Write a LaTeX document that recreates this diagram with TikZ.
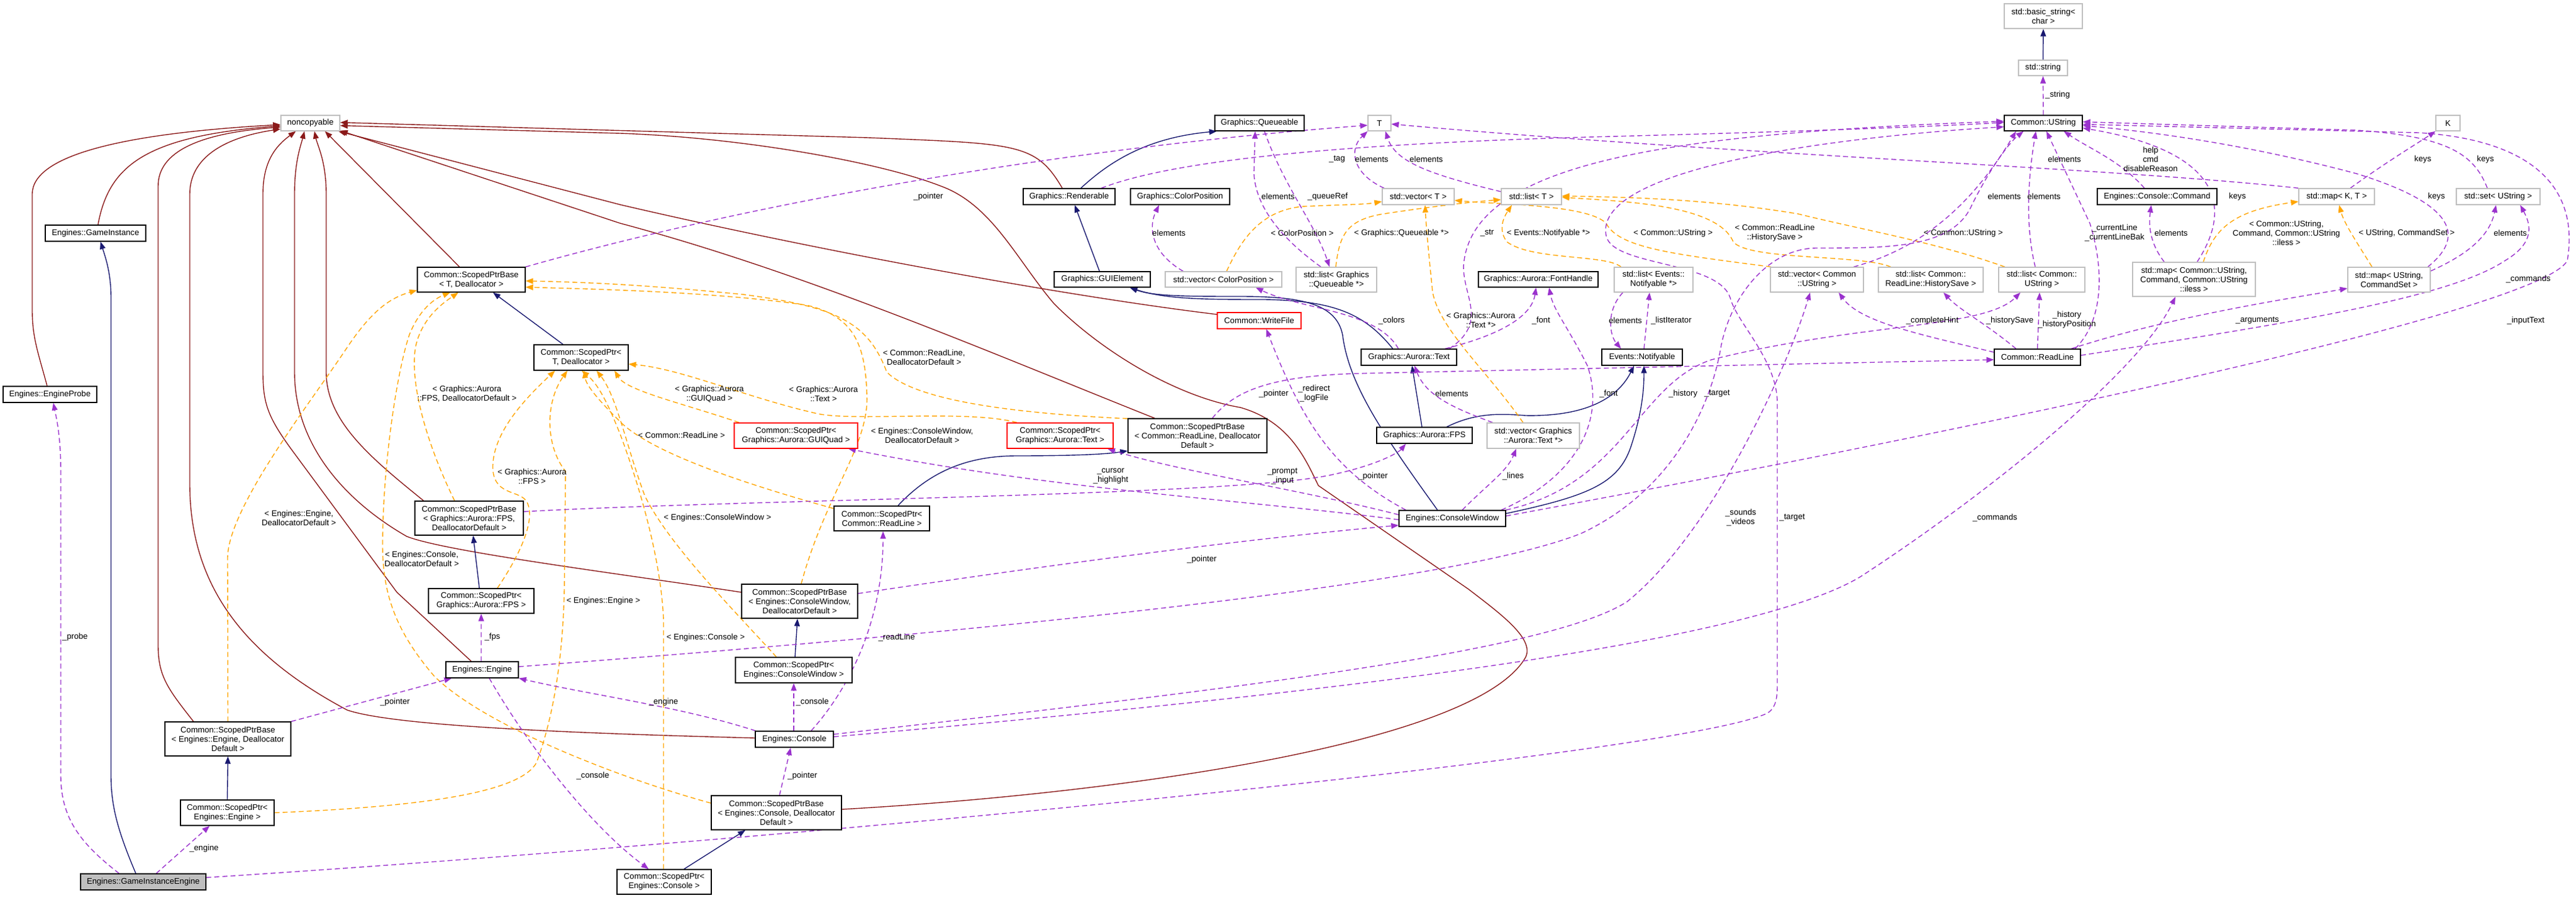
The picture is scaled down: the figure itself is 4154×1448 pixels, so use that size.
\documentclass[tikz,border=0pt]{standalone}
\usepackage{fontspec}
\setmainfont{Liberation Sans}
\usetikzlibrary{arrows.meta}
\definecolor{mblue}{RGB}{25,25,112}
\definecolor{fbrick}{RGB}{139,26,26}
\definecolor{dorchid}{RGB}{154,50,205}
\definecolor{orng}{RGB}{255,165,0}
\definecolor{grey75}{RGB}{191,191,191}
\pgfdeclarelayer{bg}
\pgfsetlayers{bg,main}
\tikzset{
  every node/.style={font=\fontsize{13.2bp}{15bp}\selectfont, inner sep=0pt, align=center},
  cls/.style={draw=black, line width=1.3bp, fill=white},
  ext/.style={draw=grey75, line width=1.3bp, fill=white},
  trunc/.style={draw=red, line width=1.3bp, fill=white},
  sel/.style={draw=black, line width=1.3bp, fill=grey75},
  sz/.style 2 args={minimum width=#1bp, minimum height=#2bp},
  edgebase/.style={line width=1.4bp, -{Triangle[length=12bp,width=9bp]}},
  pub/.style={edgebase, draw=mblue},
  priv/.style={edgebase, draw=fbrick},
  usage/.style={edgebase, draw=dorchid, dash pattern=on 8bp off 5bp},
  tmpl/.style={edgebase, draw=orng, dash pattern=on 8bp off 5bp},
}
\begin{document}
\begin{tikzpicture}[x=1bp,y=-1bp]
\useasboundingbox (0,0) rectangle (4154,1448);
% ---------------- nodes ----------------
\node[ext,sz={95}{25}] (noncopyable) at (500.5,198.5) {noncopyable};
\node[cls,sz={162}{26}] (gameinst) at (154,376) {Engines::GameInstance};
\node[cls,sz={174}{40}] (spbT) at (760,451) {Common::ScopedPtrBase\\< T, Deallocator >};
\node[cls,sz={151}{26}] (probe) at (80.5,636) {Engines::EngineProbe};
\node[cls,sz={152}{41}] (spT) at (937,576.5) {Common::ScopedPtr<\\T, Deallocator >};
\node[cls,sz={175}{55}] (spbFPS) at (756.5,835.5) {Common::ScopedPtrBase\\< Graphics::Aurora::FPS,\\DeallocatorDefault >};
\node[cls,sz={170}{40}] (spFPS) at (776,969) {Common::ScopedPtr<\\Graphics::Aurora::FPS >};
\node[cls,sz={117}{26}] (engine) at (777.5,1080) {Engines::Engine};
\node[cls,sz={203}{55}] (spbEngine) at (367.5,1191.5) {Common::ScopedPtrBase\\< Engines::Engine, Deallocator\\Default >};
\node[cls,sz={151}{41}] (spEngine) at (366.5,1310.5) {Common::ScopedPtr<\\Engines::Engine >};
\node[sel,sz={202}{26}] (gie) at (231,1422) {Engines::GameInstanceEngine};
\node[cls,sz={152}{40}] (spConsole) at (1071,1422) {Common::ScopedPtr<\\Engines::Console >};
\node[cls,sz={210}{55}] (spbConsole) at (1252,1310.5) {Common::ScopedPtrBase\\< Engines::Console, Deallocator\\Default >};
\node[cls,sz={126}{26}] (console) at (1281,1192) {Engines::Console};
\node[cls,sz={188}{41}] (spCW) at (1280,1080.5) {Common::ScopedPtr<\\Engines::ConsoleWindow >};
\node[cls,sz={187}{55}] (spbCW) at (1289.5,969.5) {Common::ScopedPtrBase\\< Engines::ConsoleWindow,\\DeallocatorDefault >};
\node[cls,sz={154}{40}] (spRL) at (1422,836) {Common::ScopedPtr<\\Common::ReadLine >};
\node[trunc,sz={199}{41}] (spGUIQuad) at (1283.5,702.5) {Common::ScopedPtr<\\Graphics::Aurora::GUIQuad >};
\node[trunc,sz={171}{41}] (spText) at (1709.5,702.5) {Common::ScopedPtr<\\Graphics::Aurora::Text >};
\node[cls,sz={224}{55}] (spbRL) at (1931,702.5) {Common::ScopedPtrBase\\< Common::ReadLine, Deallocator\\Default >};
\node[trunc,sz={135}{26}] (writefile) at (2030.5,517) {Common::WriteFile};
\node[cls,sz={148}{26}] (renderable) at (1724,317) {Graphics::Renderable};
\node[cls,sz={160}{26}] (colorpos) at (1903,317) {Graphics::ColorPosition};
\node[cls,sz={144}{25}] (queueable) at (2031,198.5) {Graphics::Queueable};
\node[cls,sz={155}{25}] (guielement) at (1777.5,450.5) {Graphics::GUIElement};
\node[ext,sz={188}{25}] (vecCP) at (1973,450.5) {std::vector< ColorPosition >};
\node[ext,sz={37}{25}] (T) at (2224.5,198.5) {T};
\node[ext,sz={116}{26}] (vecT) at (2287,317) {std::vector< T >};
\node[ext,sz={97}{26}] (listT) at (2469.5,317) {std::list< T >};
\node[ext,sz={130}{40}] (listQ) at (2155,451) {std::list< Graphics\\::Queueable *>};
\node[cls,sz={193}{25}] (fonthandle) at (2480.5,450.5) {Graphics::Aurora::FontHandle};
\node[ext,sz={127}{40}] (listN) at (2666.5,451) {std::list< Events::\\Notifyable *>};
\node[ext,sz={150}{40}] (vecUS) at (2930,451) {std::vector< Common\\::UString >};
\node[ext,sz={169}{40}] (listHS) at (3113.5,451) {std::list< Common::\\ReadLine::HistorySave >};
\node[ext,sz={126}{40}] (basicstring) at (3295,26) {std::basic\_string<\\char >};
\node[ext,sz={79}{25}] (stdstring) at (3294.5,109.5) {std::string};
\node[cls,sz={126}{25}] (ustring) at (3295,198.5) {Common::UString};
\node[ext,sz={39}{25}] (K) at (3947.5,198.5) {K};
\node[cls,sz={193}{26}] (command) at (3478.5,317) {Engines::Console::Command};
\node[ext,sz={122}{26}] (mapKT) at (3768,317) {std::map< K, T >};
\node[ext,sz={135}{26}] (setUS) at (4028.5,317) {std::set< UString >};
\node[ext,sz={139}{40}] (listUS) at (3292.5,451) {std::list< Common::\\UString >};
\node[ext,sz={198}{55}] (mapCmd) at (3538,450.5) {std::map< Common::UString,\\Command, Common::UString\\::iless >};
\node[ext,sz={133}{40}] (mapCS) at (3852.5,451) {std::map< UString,\\CommandSet >};
\node[cls,sz={154}{26}] (text) at (2272,576) {Graphics::Aurora::Text};
\node[cls,sz={130}{26}] (notifyable) at (2648,576) {Events::Notifyable};
\node[cls,sz={154}{26}] (fps) at (2297,702) {Graphics::Aurora::FPS};
\node[ext,sz={149}{41}] (vecText) at (2472.5,702.5) {std::vector< Graphics\\::Aurora::Text *>};
\node[cls,sz={172}{26}] (cw) at (2342,836) {Engines::ConsoleWindow};
\node[cls,sz={139}{26}] (readline) at (3285.5,576) {Common::ReadLine};
% ---------------- edges ----------------
\begin{pgfonlayer}{bg}
% private inheritance
\draw[priv] ([xshift=-4.5bp]probe.north) .. controls (62,570) and (52,545) .. (52,500) -- (52,313) .. controls (52,250) and (200,215) .. ([yshift=-2.5bp]noncopyable.west);
\draw[priv] ([xshift=4bp]gameinst.north) .. controls (175,270) and (230,220) .. ([yshift=-4.5bp]noncopyable.west);
\draw[priv] ([xshift=-55.5bp]spbEngine.north) .. controls (270,1110) and (255,1090) .. (255,1040) -- (255,300) .. controls (255,245) and (320,215) .. ([yshift=-6.5bp]noncopyable.west);
\draw[priv] ([yshift=2bp]console.west) .. controls (950,1183) and (640,1172) .. (560,1145) .. controls (400,1060) and (306,950) .. (306,780) -- (306,313) .. controls (306,255) and (360,222) .. ([yshift=-9.5bp]noncopyable.west);
\draw[priv] ([xshift=-17.5bp]engine.north) -- (640,955) -- (468,722) .. controls (432,672) and (424,650) .. (424,600) -- (424,313) .. controls (424,260) and (445,235) .. ([xshift=-23.5bp]noncopyable.south);
\draw[priv] ([yshift=14.5bp]spbCW.west) .. controls (1000,925) and (720,890) .. (656,865) .. controls (560,810) and (475,720) .. (475,600) -- (475,313) .. controls (475,260) and (485,235) .. ([xshift=-9.5bp]noncopyable.south);
\draw[priv] ([xshift=-73.5bp]spbFPS.north) .. controls (600,740) and (526,680) .. (526,600) -- (526,313) .. controls (526,260) and (512,235) .. ([xshift=6.5bp]noncopyable.south);
\draw[priv] ([xshift=-19bp]spbT.north) -- ([xshift=23.5bp]noncopyable.south);
\draw[priv] ([yshift=10bp]writefile.west) .. controls (1700,475) and (1300,400) .. (1000,330) -- ([xshift=-3bp]noncopyable.south east);
\draw[priv] ([xshift=-69bp]spbRL.north) .. controls (1600,570) and (1300,440) .. (1000,360) -- ([yshift=1bp]noncopyable.south east);
\draw[priv] ([xshift=-11bp]renderable.north) .. controls (1670,230) and (1640,232) .. (1400,222) -- ([yshift=1bp]noncopyable.east);
\draw[priv] ([yshift=5.5bp]spbConsole.east) .. controls (1800,1280) and (2380,1200) .. (2460,1060) .. controls (2475,1030) and (2420,990) .. (2368,950) -- (2126,783) .. controls (2105,740) and (2080,680) .. (2000,657) .. controls (1900,640) and (1780,570) .. (1700,490) .. controls (1640,420) and (1600,330) .. (1517,300) .. controls (1420,262) and (1200,222) .. (1000,215) -- ([yshift=-4bp]noncopyable.east);
% public inheritance
\draw[pub] ([xshift=-12bp]gie.north) .. controls (190,1340) and (179,1300) .. (179,1250) -- (179,480) .. controls (179,440) and (170,415) .. ([xshift=8bp]gameinst.south);
\draw[pub] ([xshift=-29bp]spT.north) -- ([xshift=35bp]spbT.south);
\draw[pub] ([xshift=-3bp]spFPS.north) -- ([xshift=6.5bp]spbFPS.south);
\draw[pub] (spEngine.north) -- (spbEngine.south);
\draw[pub] ([xshift=2bp]spCW.north) -- ([xshift=-3.5bp]spbCW.south);
\draw[pub] ([xshift=32bp]spConsole.north) -- ([xshift=-50bp]spbConsole.south);
\draw[pub] ([xshift=26bp]spRL.north) .. controls (1500,760) and (1560,735) .. (1640,735) .. controls (1720,735) and (1780,733) .. ([yshift=-24.5bp]spbRL.west);
\draw[pub] ([xshift=19bp]renderable.north) .. controls (1790,260) and (1850,222) .. ([xshift=-69bp]queueable.south);
\draw[pub] ([xshift=-4.5bp]guielement.north) -- ([xshift=9bp]renderable.south);
\draw[pub] ([xshift=-26bp]text.north) .. controls (2200,505) and (2150,485) .. (2040,483) .. controls (1950,483) and (1880,483) .. ([xshift=44.5bp]guielement.south);
\draw[pub] ([xshift=-24bp]cw.north) .. controls (2230,700) and (2175,620) .. (2165,540) .. controls (2155,490) and (2100,478) .. (2000,478) .. controls (1920,478) and (1860,478) .. ([xshift=44.5bp]guielement.south);
\draw[pub] ([xshift=-4bp]fps.north) -- ([xshift=5bp]text.south);
\draw[pub] ([xshift=36bp]fps.north) .. controls (2380,665) and (2420,667) .. (2460,670) .. controls (2560,672) and (2610,640) .. ([xshift=-13bp]notifyable.south);
\draw[pub] ([yshift=8bp]cw.east) .. controls (2560,800) and (2610,780) .. (2630,720) .. controls (2650,660) and (2651,620) .. ([xshift=3bp]notifyable.south);
\draw[pub] (stdstring.north) -- (basicstring.south);
% template instances
\draw[tmpl] ([xshift=-23.5bp]spbFPS.north) .. controls (690,720) and (660,620) .. (670,560) .. controls (680,510) and (720,485) .. ([xshift=-21bp]spbT.south);
\draw[tmpl] ([yshift=15.5bp]spbConsole.west) .. controls (1000,1255) and (780,1170) .. (700,1090) .. controls (640,1020) and (617,960) .. (617,880) .. controls (617,750) and (640,600) .. (660,540) .. controls (680,490) and (710,478) .. ([xshift=-34bp]spbT.south);
\draw[tmpl] (spbEngine.north) -- (367,900) .. controls (367,820) and (500,650) .. (560,560) .. controls (600,500) and (630,480) .. ([yshift=-17bp]spbT.west);
\draw[tmpl] ([xshift=2.5bp]spbCW.north) .. controls (1330,800) and (1400,720) .. (1398,640) .. controls (1396,560) and (1380,510) .. (1300,492) .. controls (1150,470) and (950,466) .. ([yshift=-12bp]spbT.east);
\draw[tmpl] ([yshift=27.5bp]spbRL.west) .. controls (1600,665) and (1470,640) .. (1430,600) .. controls (1400,520) and (1350,495) .. (1200,475) .. controls (1050,460) and (950,455) .. ([yshift=-2bp]spbT.east);
\draw[tmpl] ([xshift=26bp]spFPS.north) .. controls (835,900) and (865,840) .. (850,810) .. controls (840,790) and (800,800) .. (795,760) .. controls (790,700) and (850,640) .. ([xshift=-42bp]spT.south);
\draw[tmpl] (spEngine.east) .. controls (700,1300) and (840,1275) .. (865,1230) .. controls (895,1150) and (908,1050) .. (910,950) -- (912,760) .. controls (880,720) and (878,650) .. ([xshift=-22bp]spT.south);
\draw[tmpl] ([xshift=-1bp]spConsole.north) -- (1070,1000) .. controls (1066,900) and (1030,780) .. (1000,700) .. controls (980,650) and (965,620) .. ([xshift=1bp]spT.south);
\draw[tmpl] ([xshift=-28bp]spCW.north) .. controls (1180,980) and (1080,880) .. (1040,800) .. controls (1010,720) and (995,640) .. ([xshift=25bp]spT.south);
\draw[tmpl] ([yshift=16bp]spRL.west) .. controls (1200,780) and (1050,730) .. (1000,680) .. controls (960,640) and (945,620) .. ([xshift=5bp]spT.south);
\draw[tmpl] ([xshift=-91.5bp]spGUIQuad.north) .. controls (1100,650) and (1010,630) .. ([xshift=54bp]spT.south);
\draw[tmpl] ([xshift=-69.5bp]spText.north) .. controls (1560,660) and (1380,680) .. (1318,667) .. controls (1200,640) and (1100,595) .. ([yshift=-10.5bp]spT.east);
\draw[tmpl] ([xshift=5bp]vecCP.north) .. controls (2000,390) and (2030,340) .. (2100,333) .. controls (2160,330) and (2200,330) .. ([yshift=-8bp]vecT.west);
\draw[tmpl] ([xshift=-16.5bp]vecText.north) .. controls (2400,600) and (2320,530) .. (2310,470) .. controls (2305,420) and (2300,370) .. ([xshift=11bp]vecT.south);
\draw[tmpl] ([xshift=-74bp]vecUS.north) .. controls (2700,410) and (2610,400) .. (2590,360) .. controls (2560,330) and (2420,330) .. ([yshift=-6bp]vecT.east);
\draw[tmpl] ([xshift=-1bp]listQ.north) .. controls (2160,380) and (2170,355) .. (2230,345) .. controls (2330,330) and (2380,325) .. ([yshift=-5bp]listT.west);
\draw[tmpl] ([xshift=-52.5bp]listN.north) .. controls (2590,410) and (2470,420) .. (2430,390) .. controls (2415,370) and (2425,350) .. ([xshift=-31.5bp]listT.south);
\draw[tmpl] ([xshift=-64.5bp]listHS.north) .. controls (3000,410) and (2820,420) .. (2795,390) .. controls (2770,330) and (2620,325) .. ([yshift=-1bp]listT.east);
\draw[tmpl] ([xshift=-59.5bp]listUS.north) .. controls (3120,390) and (3000,370) .. (2900,345) .. controls (2750,320) and (2620,318) .. ([yshift=1bp]listT.east);
\draw[tmpl] ([xshift=15bp]mapCmd.north) .. controls (3570,370) and (3600,340) .. ([yshift=-8bp]mapKT.west);
\draw[tmpl] ([xshift=-27.5bp]mapCS.north) .. controls (3800,390) and (3780,360) .. ([xshift=4bp]mapKT.south);
% usage
\draw[usage] ([xshift=-39bp]gie.north) .. controls (130,1360) and (98,1320) .. (98,1250) -- (98,760) .. controls (98,700) and (90,670) .. ([xshift=5.5bp]probe.south);
\draw[usage] ([xshift=21bp]gie.north) -- ([xshift=-28.5bp]spEngine.south);
\draw[usage] ([yshift=7bp]gie.east) .. controls (1200,1360) and (2700,1220) .. (2850,1150) .. controls (2866,1140) and (2866,1120) .. (2866,1100) -- (2866,650) .. controls (2866,580) and (2800,520) .. (2790,480) .. controls (2770,420) and (2600,430) .. (2590,380) .. controls (2570,280) and (2900,225) .. ([yshift=-6bp]ustring.west);
\draw[usage] ([yshift=5bp]engine.east) .. controls (1300,1040) and (2300,960) .. (2550,860) .. controls (2700,790) and (2760,650) .. (2775,560) .. controls (2790,480) and (2850,400) .. (2930,400) .. controls (3050,400) and (3150,400) .. (3180,330) .. controls (3210,270) and (3240,230) .. ([xshift=-32bp]ustring.south);
\draw[usage] (spbEngine.north east) -- ([xshift=10bp]engine.south west);
\draw[usage] ([xshift=-1.5bp]engine.north) -- (spFPS.south);
\draw[usage] ([xshift=11.5bp]engine.south) .. controls (850,1200) and (950,1330) .. ([xshift=-25bp]spConsole.north);
\draw[usage] ([xshift=1bp]console.north west) .. controls (1100,1140) and (950,1120) .. (engine.south east);
\draw[usage] ([xshift=-1bp]console.north) -- (spCW.south);
\draw[usage] ([xshift=27bp]console.north) .. controls (1370,1110) and (1424,1000) .. ([xshift=2bp]spRL.south);
\draw[usage] ([xshift=5bp]spbConsole.north) -- ([xshift=-6bp]console.south);
\draw[usage] ([yshift=4bp]console.east) .. controls (2000,1130) and (2800,1050) .. (3000,930) .. controls (3200,800) and (3450,600) .. ([xshift=-30bp]mapCmd.south);
\draw[usage] ([yshift=8bp]console.east) .. controls (2000,1110) and (2500,1050) .. (2624,970) .. controls (2760,860) and (2880,600) .. ([xshift=-11bp]vecUS.south);
\draw[usage] (spbT.north east) .. controls (1200,330) and (1700,240) .. ([yshift=-3.5bp]T.west);
\draw[usage] ([xshift=52bp]renderable.north) .. controls (1900,255) and (2200,230) .. (2600,220) .. controls (2900,212) and (3100,205) .. ([yshift=1bp]ustring.west);
\draw[usage] ([xshift=-25bp]listQ.north) .. controls (2060,380) and (2025,330) .. (2022,280) -- ([xshift=-7bp]queueable.south);
\draw[usage] ([xshift=8bp]queueable.south) .. controls (2070,300) and (2120,360) .. ([xshift=-11bp]listQ.north);
\draw[usage] ([xshift=-65bp]vecCP.north) .. controls (1860,410) and (1850,370) .. ([xshift=-34bp]colorpos.south);
\draw[usage] ([xshift=-17bp]text.north) .. controls (2220,500) and (2100,500) .. ([xshift=52bp]vecCP.south);
\draw[usage] ([xshift=65bp]text.north) .. controls (2400,520) and (2360,480) .. (2360,430) .. controls (2370,260) and (2700,215) .. ([yshift=3bp]ustring.west);
\draw[usage] ([xshift=58bp]text.north) .. controls (2420,540) and (2470,510) .. ([xshift=-3.5bp]fonthandle.south);
\draw[usage] ([xshift=79bp]cw.north) .. controls (2540,770) and (2590,680) .. (2560,590) .. controls (2530,530) and (2505,500) .. ([xshift=17.5bp]fonthandle.south);
\draw[usage] ([xshift=-49.5bp]listN.south) .. controls (2590,500) and (2595,540) .. ([xshift=-34bp]notifyable.north);
\draw[usage] ([xshift=3bp]notifyable.north) -- ([xshift=-6.5bp]listN.south);
\draw[usage] ([xshift=-65.5bp]vecText.north) .. controls (2350,660) and (2300,640) .. ([xshift=9bp]text.south);
\draw[usage] ([xshift=16bp]cw.north) .. controls (2400,780) and (2430,760) .. ([xshift=-27.5bp]vecText.south);
\draw[usage] ([yshift=10.5bp]spbFPS.east) .. controls (1200,805) and (2000,800) .. (2150,765) .. controls (2220,750) and (2255,730) .. ([xshift=-30bp]fps.south);
\draw[usage] ([xshift=24bp]spbRL.north) .. controls (1990,630) and (2050,605) .. (2200,602) -- ([yshift=-4bp]readline.west);
\draw[usage] ([xshift=-75bp]cw.north) .. controls (2150,760) and (2100,680) .. ([xshift=11.5bp]writefile.south);
\draw[usage] ([yshift=6bp]cw.west) .. controls (2100,790) and (1900,760) .. ([xshift=76.5bp]spText.south);
\draw[usage] ([yshift=-2bp]cw.west) .. controls (2000,805) and (1700,790) .. ([xshift=84.5bp]spGUIQuad.south);
\draw[usage] ([yshift=12.5bp]spbCW.east) .. controls (1700,910) and (2000,870) .. ([yshift=-11bp]cw.west);
\draw[usage] (cw.north east) .. controls (2620,780) and (2640,620) .. (2760,580) .. controls (3000,520) and (3200,530) .. ([xshift=-34.5bp]listUS.south);
\draw[usage] ([yshift=4bp]cw.east) .. controls (3200,690) and (4100,500) .. (4140,420) .. controls (4160,300) and (4080,225) .. (3900,214) -- ([yshift=-2bp]ustring.east);
\draw[usage] ([xshift=60.5bp]readline.north) .. controls (3390,520) and (3395,440) .. (3370,360) -- ([xshift=5bp]ustring.south);
\draw[usage] (readline.north) -- ([xshift=-3.5bp]listUS.south);
\draw[usage] ([xshift=-34.5bp]readline.north) .. controls (3200,520) and (3160,500) .. ([xshift=20.5bp]listHS.south);
\draw[usage] ([yshift=8bp]readline.west) .. controls (3100,540) and (3000,520) .. ([xshift=35bp]vecUS.south);
\draw[usage] ([xshift=54.5bp]readline.north) .. controls (3500,510) and (3700,480) .. ([yshift=-14bp]mapCS.west);
\draw[usage] ([yshift=3bp]readline.east) .. controls (3700,520) and (3950,480) .. (4040,420) .. controls (4090,390) and (4080,360) .. ([xshift=35.5bp]setUS.south);
\draw[usage] ([yshift=14bp]mapCS.east) .. controls (3980,410) and (4015,380) .. ([xshift=-3.5bp]setUS.south);
\draw[usage] ([xshift=62.5bp]mapCS.north) .. controls (3990,370) and (3930,320) .. (3800,280) .. controls (3650,240) and (3500,215) .. ([yshift=-4bp]ustring.east);
\draw[usage] ([xshift=-17.5bp]setUS.north) .. controls (3990,250) and (3950,220) .. (3800,210) -- ([yshift=2bp]ustring.east);
\draw[usage] ([xshift=22bp]mapKT.north) .. controls (3850,260) and (3900,230) .. (K.south west);
\draw[usage] (mapKT.north west) .. controls (3400,270) and (2800,250) .. ([yshift=-1.5bp]T.east);
\draw[usage] ([xshift=5bp]mapCmd.north) .. controls (3610,320) and (3560,240) .. ([yshift=-8bp]ustring.east);
\draw[usage] ([xshift=-48bp]mapCmd.north) .. controls (3465,390) and (3465,360) .. ([xshift=-9.5bp]command.south);
\draw[usage] ([xshift=-20.5bp]command.north) .. controls (3420,260) and (3370,240) .. ([xshift=33bp]ustring.south);
\draw[usage] ([xshift=-10.5bp]listUS.north) .. controls (3262,350) and (3275,260) .. ([xshift=-12bp]ustring.south);
\draw[usage] ([xshift=59bp]vecUS.north) .. controls (3100,400) and (3180,330) .. ([xshift=-44bp]ustring.south);
\draw[usage] (ustring.north) -- (stdstring.south);
\draw[usage] ([xshift=-55bp]vecT.north) .. controls (2180,280) and (2175,240) .. (T.south west);
\draw[usage] ([yshift=8bp]listT.west) .. controls (2300,280) and (2250,260) .. ([xshift=9.5bp]T.south);
\end{pgfonlayer}
% ---------------- labels ----------------
\node (l1) at (1497,317) {\_pointer};
\node (l2) at (1885,376) {elements};
\node (l3) at (2156,257) {\_tag};
\node (l4) at (2212,257) {elements};
\node (l5) at (2300,257) {elements};
\node (l6) at (2061,317) {elements};
\node (l7) at (2141,317) {\_queueRef};
\node (l8) at (2100,376) {< ColorPosition >};
\node (l9) at (2260,376) {< Graphics::Queueable *>};
\node (l10) at (2398,376) {\_str};
\node (l11) at (2497,376) {< Events::Notifyable *>};
\node (l12) at (2698,376) {< Common::UString >};
\node (l13) at (2862,376) {< Common::ReadLine\\::HistorySave >};
\node (l14) at (3318,153) {\_string};
\node (l15) at (3329,257) {elements};
\node (l16) at (3468,257) {help\\cmd\\disableReason};
\node (l17) at (3907,257) {keys};
\node (l18) at (4008,257) {keys};
\node (l19) at (3232,317) {elements};
\node (l20) at (3296,317) {elements};
\node (l21) at (3608,317) {keys};
\node (l22) at (3929,317) {keys};
\node (l23) at (3166,376) {< Common::UString >};
\node (l24) at (3410,376) {\_currentLine\\\_currentLineBak};
\node (l25) at (3501,376) {elements};
\node (l26) at (3687,376) {< Common::UString,\\Command, Common::UString\\::iless >};
\node (l27) at (3881,376) {< UString, CommandSet >};
\node (l28) at (4048,376) {elements};
\node (l29) at (4077,450) {\_commands};
\node (l30) at (753,635) {< Graphics::Aurora\\::FPS, DeallocatorDefault >};
\node (l31) at (858,768) {< Graphics::Aurora\\::FPS >};
\node (l32) at (482,835) {< Engines::Engine,\\DeallocatorDefault >};
\node (l33) at (680,901) {< Engines::Console,\\DeallocatorDefault >};
\node (l34) at (973,969) {< Engines::Engine >};
\node (l35) at (1490,576) {< Common::ReadLine,\\DeallocatorDefault >};
\node (l36) at (1144,635) {< Graphics::Aurora\\::GUIQuad >};
\node (l37) at (1328,635) {< Graphics::Aurora\\::Text >};
\node (l38) at (1099,702) {< Common::ReadLine >};
\node (l39) at (1487,702) {< Engines::ConsoleWindow,\\DeallocatorDefault >};
\node (l40) at (1791,768) {\_cursor\\\_highlight};
\node (l41) at (1157,835) {< Engines::ConsoleWindow >};
\node (l42) at (1938,902) {\_pointer};
\node (l43) at (2244,517) {\_colors};
\node (l44) at (2388,516) {< Graphics::Aurora\\::Text *>};
\node (l45) at (2485,517) {\_font};
\node (l46) at (2621,517) {elements};
\node (l47) at (2695,517) {\_listIterator};
\node (l48) at (2054,635) {\_pointer};
\node (l49) at (2119,635) {\_redirect\\\_logFile};
\node (l50) at (2341,635) {elements};
\node (l51) at (2594,635) {\_font};
\node (l52) at (2714,635) {\_history};
\node (l53) at (2769,635) {\_target};
\node (l54) at (2068,768) {\_prompt\\\_input};
\node (l55) at (2214,768) {\_pointer};
\node (l56) at (2440,768) {\_lines};
\node (l57) at (2807,835) {\_sounds\\\_videos};
\node (l58) at (2890,835) {\_target};
\node (l59) at (3116,517) {\_completeHint};
\node (l60) at (3241,517) {\_historySave};
\node (l61) at (3333,516) {\_history\\\_historyPosition};
\node (l62) at (3640,517) {\_arguments};
\node (l63) at (4073,517) {\_inputText};
\node (l64) at (3217,835) {\_commands};
\node (l65) at (121,1027) {\_probe};
\node (l66) at (794,1027) {\_fps};
\node (l67) at (637,1132) {\_pointer};
\node (l68) at (956,1251) {\_console};
\node (l69) at (329,1368) {\_engine};
\node (l70) at (1138,1028) {< Engines::Console >};
\node (l71) at (1446,1028) {\_readLine};
\node (l72) at (1070,1132) {\_engine};
\node (l73) at (1310,1132) {\_console};
\node (l74) at (1294,1251) {\_pointer};
\end{tikzpicture}
\end{document}
